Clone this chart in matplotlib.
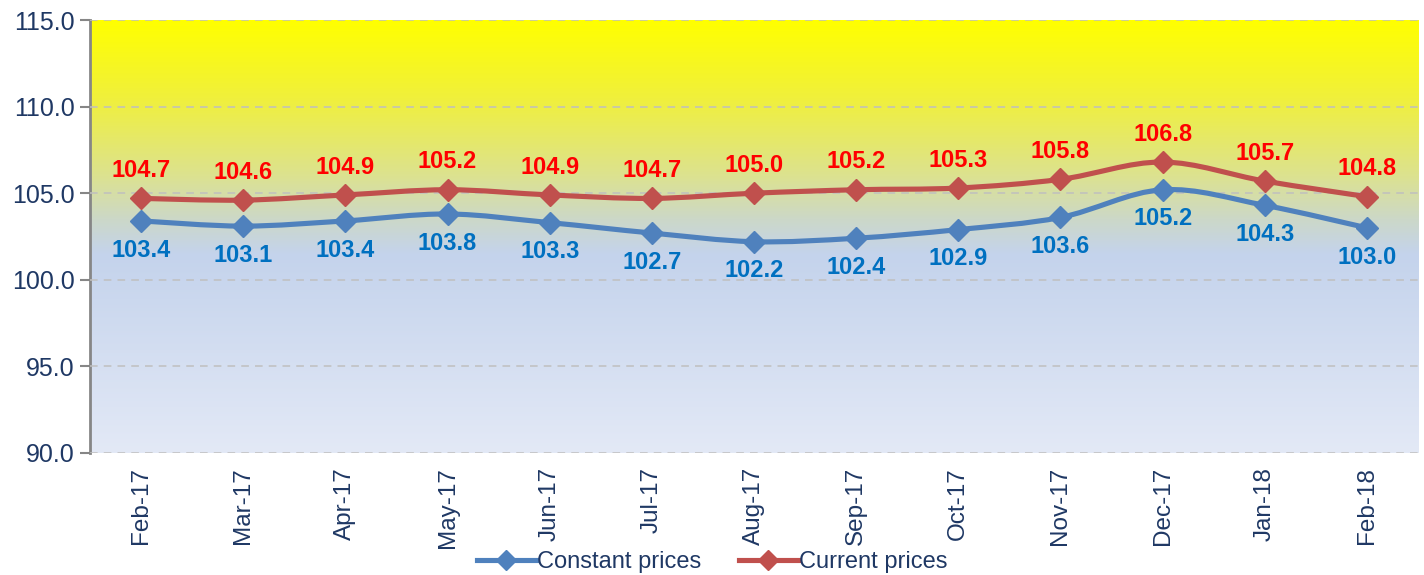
import numpy as np
import matplotlib.pyplot as plt
from matplotlib.path import Path
from matplotlib.patches import PathPatch
from matplotlib.colors import LinearSegmentedColormap
from matplotlib.lines import Line2D

plt.rcParams['font.family'] = ['Liberation Sans', 'DejaVu Sans']

months = ['Feb-17', 'Mar-17', 'Apr-17', 'May-17', 'Jun-17', 'Jul-17', 'Aug-17',
          'Sep-17', 'Oct-17', 'Nov-17', 'Dec-17', 'Jan-18', 'Feb-18']
constant = [103.4, 103.1, 103.4, 103.8, 103.3, 102.7, 102.2, 102.4, 102.9, 103.6, 105.2, 104.3, 103.0]
current = [104.7, 104.6, 104.9, 105.2, 104.9, 104.7, 105.0, 105.2, 105.3, 105.8, 106.8, 105.7, 104.8]

blue_line = '#4F81BD'
red_line = '#C0504D'
blue_text = '#0070C0'
red_text = '#FF0000'
navy = '#1F3864'


def smooth_path(xs, ys):
    # Excel-style smoothed line as cubic bezier segments
    pts = np.column_stack([xs, ys]).astype(float)
    n = len(pts)
    verts = [pts[0]]
    codes = [Path.MOVETO]
    for i in range(n - 1):
        p0 = pts[i - 1] if i > 0 else pts[i]
        p1 = pts[i]
        p2 = pts[i + 1]
        p3 = pts[i + 2] if i + 2 < n else pts[i + 1]
        c1 = p1 + (p2 - p0) / 6
        c2 = p2 - (p3 - p1) / 6
        verts += [c1, c2, p2]
        codes += [Path.CURVE4] * 3
    return Path(verts, codes)


fig = plt.figure(figsize=(14.24, 5.75), dpi=100)
ax = fig.add_axes([0.0632, 0.2122, 0.9326, 0.753])

x = np.arange(len(months))
ax.set_xlim(-0.5, len(months) - 0.5)
ax.set_ylim(90, 115)

# gradient background
cmap = LinearSegmentedColormap.from_list('bg', [
    (0.0, '#FFFF00'),
    (0.18, '#F0F03C'),
    (0.36, '#DCE290'),
    (0.46, '#CCD8C8'),
    (0.54, '#C4D3EC'),
    (1.0, '#E3E9F6'),
])
grad = np.linspace(0, 1, 256).reshape(-1, 1)
ax.imshow(grad, cmap=cmap, aspect='auto', extent=(-0.5, len(months) - 0.5, 90, 115),
          origin='upper', zorder=0)

ax.set_yticks(np.arange(90, 116, 5))
ax.set_yticklabels([f'{v:.1f}' for v in np.arange(90, 116, 5)])
ax.grid(axis='y', color='#BFBFBF', linestyle=(0, (5, 4)), linewidth=1.1, zorder=1)
ax.set_axisbelow(False)

for ys, lc in [(constant, blue_line), (current, red_line)]:
    ax.add_patch(PathPatch(smooth_path(x, ys), facecolor='none', edgecolor=lc,
                           linewidth=3.7, capstyle='round', joinstyle='round', zorder=3))
    ax.plot(x, ys, linestyle='none', marker='D', markersize=11, color=lc, zorder=4)

for xi, v in zip(x, current):
    ax.annotate(f'{v:.1f}', (xi, v), xytext=(0, 20), textcoords='offset points',
                ha='center', va='center', fontsize=17, fontweight='bold', color=red_text, zorder=5)
for xi, v in zip(x, constant):
    ax.annotate(f'{v:.1f}', (xi, v), xytext=(0, -21), textcoords='offset points',
                ha='center', va='center', fontsize=17, fontweight='bold', color=blue_text, zorder=5)

ax.set_xticks(x)
ax.set_xticklabels(months, rotation=90)
ax.tick_params(axis='x', length=0, pad=10, labelsize=17.5, labelcolor=navy)
ax.tick_params(axis='y', length=7, width=1.5, color='#868686', labelsize=18, labelcolor=navy, pad=4)

for s in ['top', 'right', 'bottom']:
    ax.spines[s].set_visible(False)
ax.spines['left'].set_color('#868686')
ax.spines['left'].set_linewidth(2)

handles = [Line2D([], [], color=blue_line, lw=3.7, marker='D', markersize=10),
           Line2D([], [], color=red_line, lw=3.7, marker='D', markersize=10)]
fig.legend(handles, ['Constant prices', 'Current prices'], loc='center',
           bbox_to_anchor=(0.5, 0.022), ncol=2, frameon=False, fontsize=17,
           handlelength=2.5, handletextpad=0.05, columnspacing=1.6, labelcolor=navy)

fig.savefig('out.png', dpi=100, facecolor='white')
